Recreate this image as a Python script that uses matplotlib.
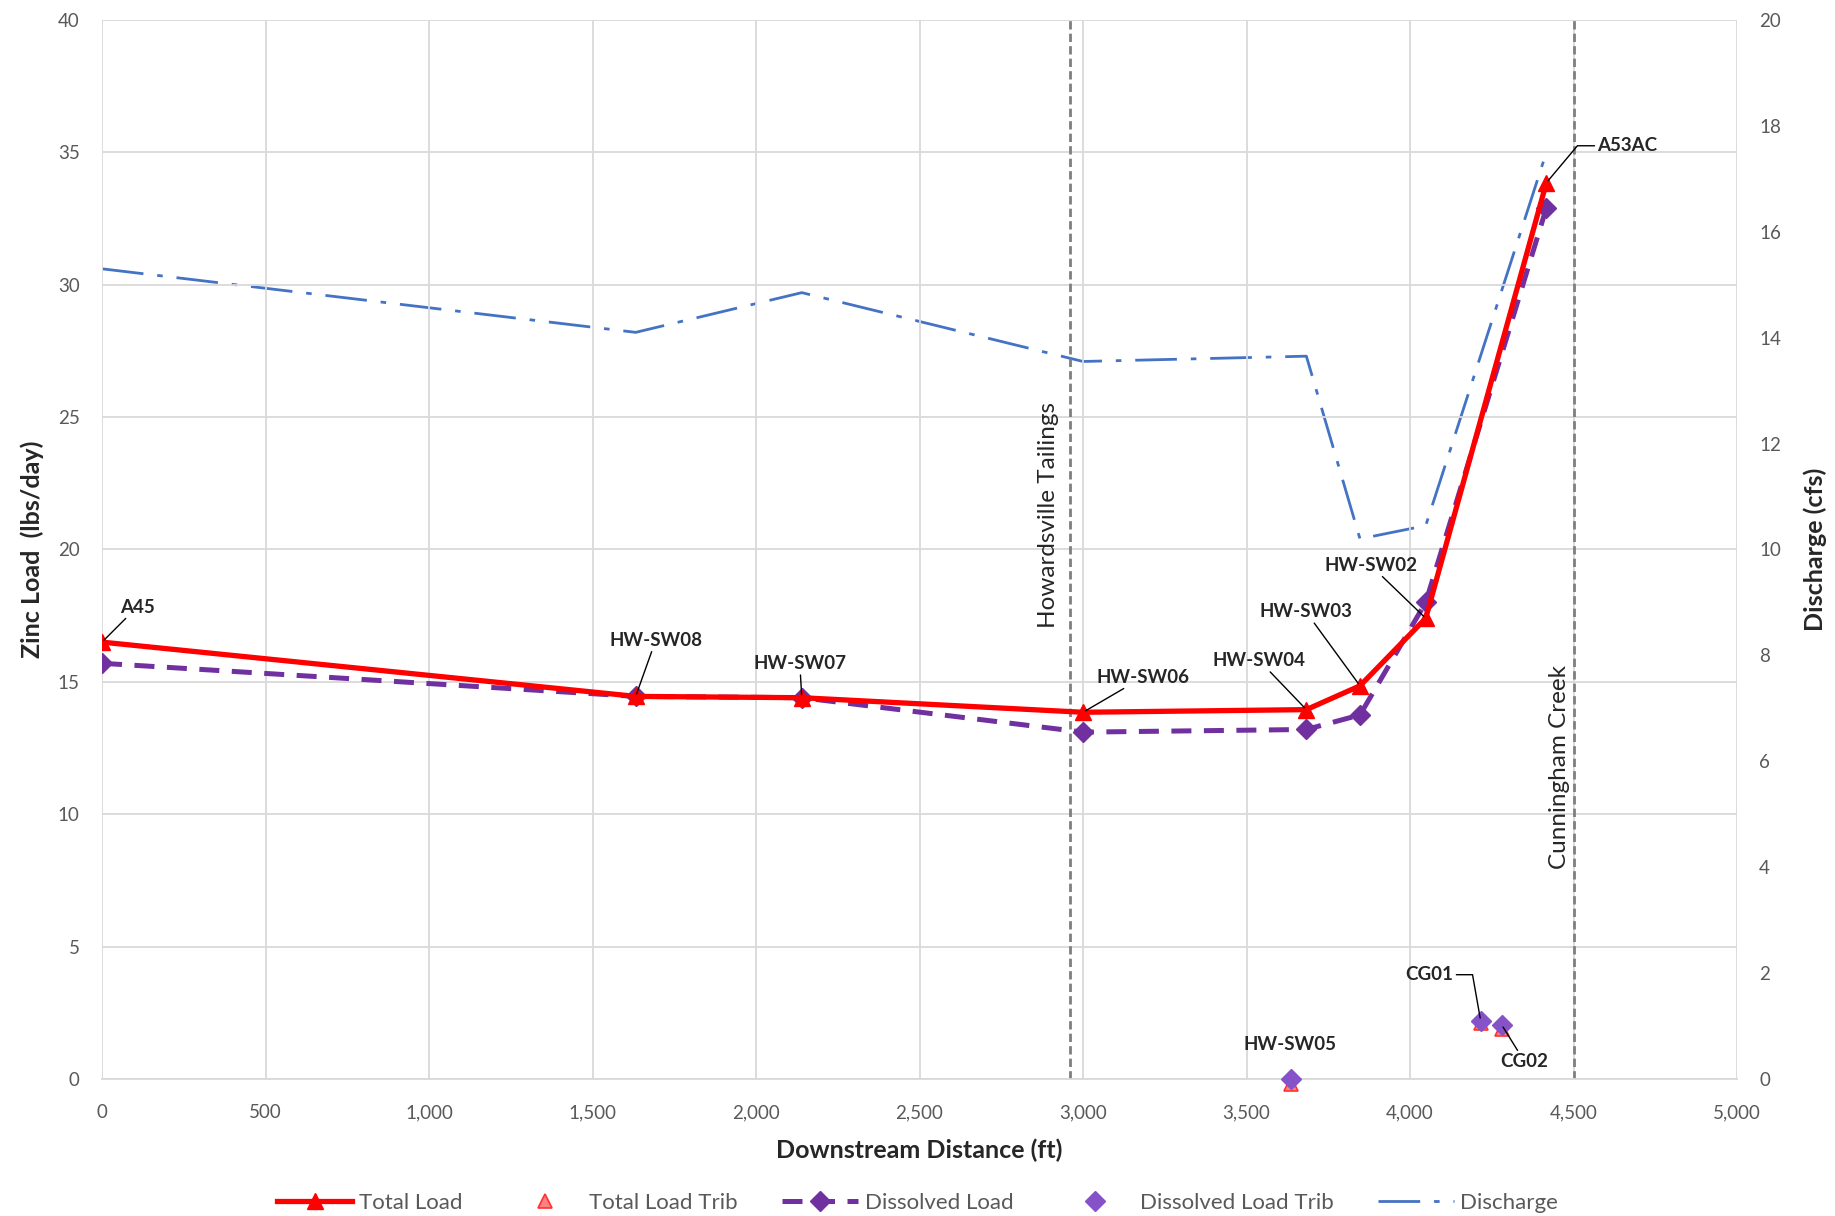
import matplotlib
matplotlib.use('Agg')
import matplotlib.pyplot as plt
from matplotlib.ticker import FuncFormatter, MultipleLocator

plt.rcParams['font.family'] = ['Lato', 'DejaVu Sans']

# --- data ---
site_names = ['A45', 'HW-SW08', 'HW-SW07', 'HW-SW06', 'HW-SW04', 'HW-SW03', 'HW-SW02', 'A53AC']
distance = [0, 1632, 2140, 3000, 3683, 3847, 4048, 4417]
total_load = [16.5, 14.45, 14.4, 13.85, 13.95, 14.85, 17.4, 33.85]
dissolved_load = [15.7, 14.45, 14.4, 13.1, 13.2, 13.75, 18.0, 32.9]
discharge = [15.3, 14.1, 14.85, 13.55, 13.65, 10.2, 10.45, 17.5]

trib_names = ['HW-SW05', 'CG01', 'CG02']
trib_distance = [3636, 4216, 4280]
total_load_trib = [-0.2, 2.1, 1.9]
dissolved_load_trib = [0.0, 2.2, 2.05]

howardsville_x = 2960
cunningham_x = 4500

# label offsets in pixels (dx, dy) for each callout
site_offsets = [(35, 35), (20, 56), (-2, 34), (60, 35), (-47, 49), (-54, 74), (-55, 53), (81, 37)]
trib_offsets = [(-1, 34), (-51, 46), (23, -37)]

fig = plt.figure(figsize=(18.35, 12.16), dpi=100)
ax = fig.add_axes([0.0556, 0.1127, 0.8910, 0.8709])
ax2 = ax.twinx()

grid_c = '#d9d9d9'
tick_c = '#595959'
text_c = '#262626'

# discharge on the secondary axis
l_dis, = ax2.plot(distance, discharge, color='#4472C4', linewidth=2.0,
                  dashes=(15, 5, 2, 5), label='Discharge')
ax2.set_ylim(0, 20)
ax2.yaxis.set_major_locator(MultipleLocator(2))

ax.set_zorder(ax2.get_zorder() + 1)
ax.patch.set_visible(False)

# vertical reference lines
ax.axvline(howardsville_x, color='#7f7f7f', linestyle=(0, (3, 1.5)), linewidth=2.0, zorder=2)
ax.axvline(cunningham_x, color='#7f7f7f', linestyle=(0, (3, 1.5)), linewidth=2.0, zorder=2)
ax.annotate('Howardsville Tailings', xy=(howardsville_x, 21.3), xytext=(-21, 0),
            textcoords='offset pixels', rotation=90, ha='center', va='center',
            fontsize=17.5, color=text_c)
ax.annotate('Cunningham Creek', xy=(cunningham_x, 11.8), xytext=(-14, 0),
            textcoords='offset pixels', rotation=90, ha='center', va='center',
            fontsize=17.5, color=text_c)

l_tot, = ax.plot(distance, total_load, color='#FF0000', linewidth=3.8, marker='^',
                 markersize=12, label='Total Load', zorder=5)
l_totT, = ax.plot(trib_distance, total_load_trib, linestyle='none', marker='^', markersize=10,
                  markerfacecolor='#ff8080', markeredgecolor='#ff3030', markeredgewidth=1.2,
                  label='Total Load Trib', zorder=4, clip_on=False)
l_dsv, = ax.plot(distance, dissolved_load, color='#7030A0', linewidth=3.6, dashes=(4, 2.5),
                 marker='D', markersize=10, label='Dissolved Load', zorder=4)
l_dsvT, = ax.plot(trib_distance, dissolved_load_trib, linestyle='none', marker='D', markersize=10,
                  color='#8652c8', label='Dissolved Load Trib', zorder=5, clip_on=False)

# callouts
arrow = dict(arrowstyle='-', color='black', linewidth=1.0, shrinkA=0, shrinkB=2)
for name, x, y, off in zip(site_names, distance, total_load, site_offsets):
    props = arrow
    if name == 'A53AC':
        props = dict(arrow, connectionstyle='angle,angleA=0,angleB=-130,rad=0')
    ax.annotate(name, xy=(x, y), xytext=off, textcoords='offset pixels',
                ha='center', va='center', fontsize=13.5, fontweight='bold', color=text_c,
                arrowprops=props, zorder=6)
for i, (name, x, y, off) in enumerate(zip(trib_names, trib_distance, dissolved_load_trib, trib_offsets)):
    props = None if i == 0 else arrow
    if name == 'CG01':
        props = dict(arrow, connectionstyle='angle,angleA=0,angleB=100,rad=0')
    ax.annotate(name, xy=(x, y), xytext=off, textcoords='offset pixels',
                ha='center', va='center', fontsize=13.5, fontweight='bold', color=text_c,
                arrowprops=props, zorder=6)

ax.set_xlim(0, 5000)
ax.set_ylim(0, 40)
ax.xaxis.set_major_locator(MultipleLocator(500))
ax.yaxis.set_major_locator(MultipleLocator(5))
ax.xaxis.set_major_formatter(FuncFormatter(lambda v, p: '{:,.0f}'.format(v)))
ax.grid(True, color=grid_c, linewidth=1.3)
ax.set_axisbelow(True)

for a in (ax, ax2):
    for s in a.spines.values():
        s.set_visible(False)
    a.tick_params(length=0, labelsize=13.5, labelcolor=tick_c, pad=16)
ax.tick_params(axis='x', pad=18)
ax.spines['bottom'].set_visible(True)
ax.spines['bottom'].set_color(grid_c)
ax.spines['bottom'].set_linewidth(1.3)

ax.set_xlabel('Downstream Distance (ft)', fontsize=18, fontweight='bold', color=text_c, labelpad=13)
ax.set_ylabel('Zinc Load  (lbs/day)', fontsize=18, fontweight='bold', color=text_c, labelpad=10)
ax2.set_ylabel('Discharge (cfs)', fontsize=18, fontweight='bold', color=text_c, labelpad=16,
               rotation=90)

fig.legend(handles=[l_tot, l_totT, l_dsv, l_dsvT, l_dis], loc='lower center',
           bbox_to_anchor=(0.5, -0.014), ncol=5, frameon=False, fontsize=16,
           labelcolor=tick_c, handlelength=3.4, columnspacing=2.0, handletextpad=0.3)

fig.savefig('out.png', dpi=100)
